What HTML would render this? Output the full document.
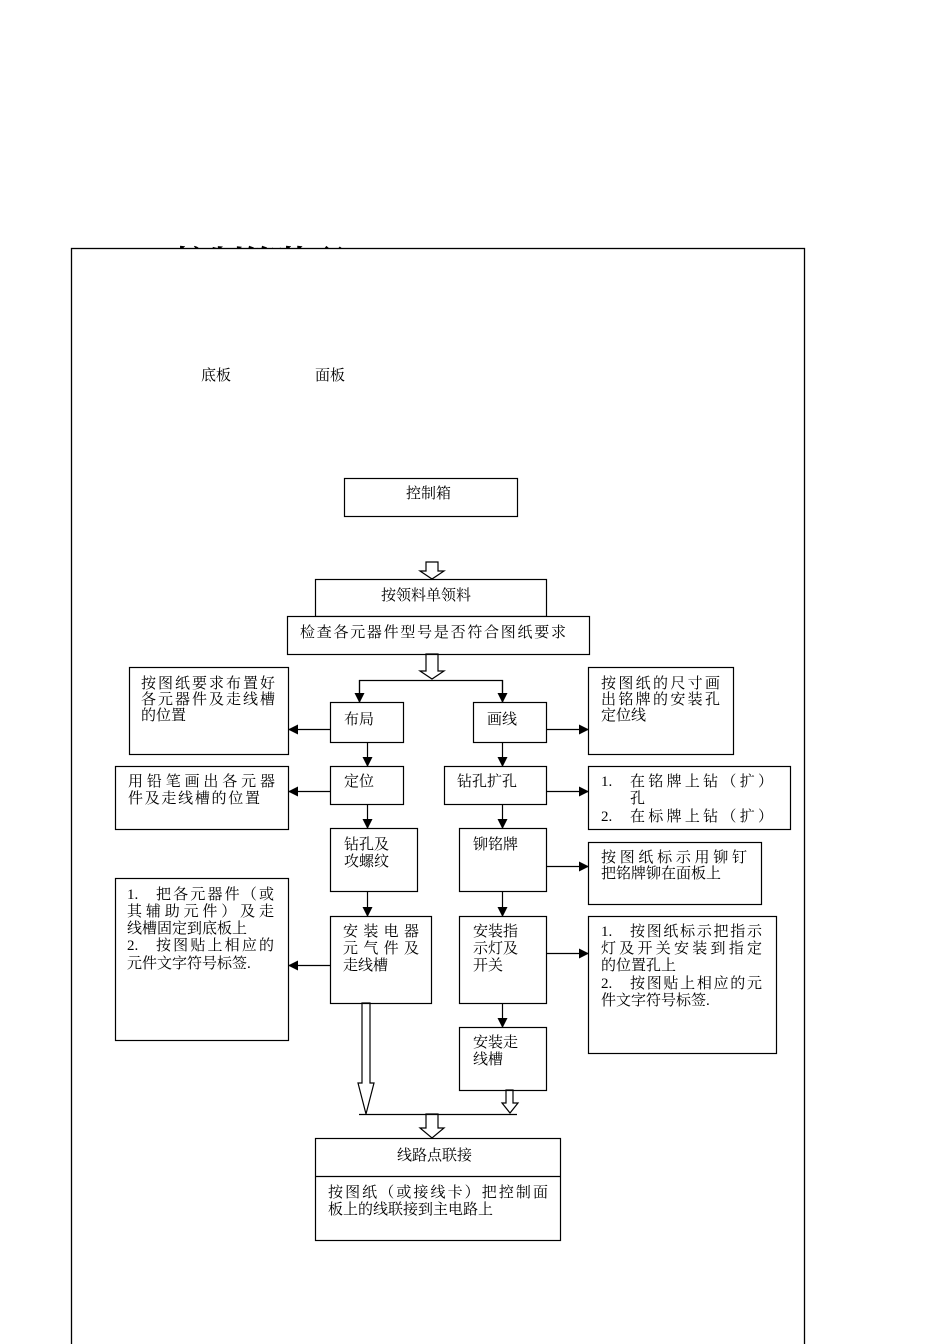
<!DOCTYPE html>
<html><head><meta charset="utf-8"><style>
html,body{margin:0;padding:0;background:#fff;}
svg{display:block;}
text{font-family:"Liberation Serif","Noto Serif CJK SC","Noto Sans CJK SC",serif;font-size:15px;fill:#000;}
</style></head><body>
<svg width="950" height="1344" viewBox="0 0 950 1344" xmlns="http://www.w3.org/2000/svg">
<defs>
<marker id="ah" markerWidth="10" markerHeight="10" refX="9" refY="5" orient="auto" markerUnits="userSpaceOnUse">
<path d="M0,0 L10,5 L0,10 z" fill="#000"/></marker>
</defs>
<text x="175" y="275" style="font-size:34px;font-weight:bold" textLength="170">控制箱装配</text>
<rect x="60" y="248" width="800" height="1100" fill="#fff"/>
<rect x="71.5" y="248.5" width="733" height="1100" fill="none" stroke="#000" stroke-width="1.3"/>
<g fill="none" stroke="#000" stroke-width="1.2">
<rect x="344.5" y="478.5" width="173" height="38"/>
<rect x="315.5" y="579.5" width="231" height="37"/>
<rect x="287.5" y="616.5" width="302" height="38" fill="#fff"/>
<rect x="330.5" y="702.5" width="73" height="40"/>
<rect x="473.5" y="702.5" width="73" height="40"/>
<rect x="129.5" y="667.5" width="159" height="87"/>
<rect x="588.5" y="667.5" width="145" height="87"/>
<rect x="330.5" y="766.5" width="73" height="38"/>
<rect x="444.5" y="766.5" width="102" height="38"/>
<rect x="115.5" y="766.5" width="173" height="63"/>
<rect x="588.5" y="766.5" width="202" height="63"/>
<rect x="330.5" y="828.5" width="87" height="63"/>
<rect x="459.5" y="828.5" width="87" height="63"/>
<rect x="588.5" y="842.5" width="173" height="62"/>
<rect x="115.5" y="878.5" width="173" height="162"/>
<rect x="330.5" y="916.5" width="101" height="87"/>
<rect x="459.5" y="916.5" width="87" height="87"/>
<rect x="588.5" y="916.5" width="188" height="137"/>
<rect x="459.5" y="1027.5" width="87" height="63"/>
<rect x="315.5" y="1138.5" width="245" height="102"/>
<line x1="315" y1="1176.5" x2="560" y2="1176.5"/>
<path d="M426,562 H438 V571 H444 L432,579 L420,571 H426 Z"/>
<path d="M426,654 H438 V671 H444 L432,679 L420,671 H426 Z"/>
<path d="M362,1003 H370 V1083 H374 L366,1114 L358,1083 H362 Z"/>
<path d="M506,1090 H513 V1103 H518 L510,1113 L502,1103 H506 Z"/>
<path d="M426,1114 H438 V1128 H444 L432,1138 L420,1128 H426 Z"/>
<line x1="359" y1="1114.5" x2="517" y2="1114.5"/>
<path d="M359.5,702 V680.5 H502.5 V702"/>
</g>
<g stroke="#000" stroke-width="1.2" marker-end="url(#ah)">
<line x1="359.5" y1="680" x2="359.5" y2="702"/>
<line x1="502.5" y1="680" x2="502.5" y2="702"/>
<line x1="330" y1="729.5" x2="289" y2="729.5"/>
<line x1="546" y1="729.5" x2="588" y2="729.5"/>
<line x1="367.5" y1="742" x2="367.5" y2="766"/>
<line x1="502.5" y1="742" x2="502.5" y2="766"/>
<line x1="330" y1="791.5" x2="289" y2="791.5"/>
<line x1="546" y1="791.5" x2="588" y2="791.5"/>
<line x1="367.5" y1="804" x2="367.5" y2="828"/>
<line x1="502.5" y1="804" x2="502.5" y2="828"/>
<line x1="546" y1="866.5" x2="588" y2="866.5"/>
<line x1="367.5" y1="891" x2="367.5" y2="916"/>
<line x1="502.5" y1="891" x2="502.5" y2="916"/>
<line x1="330" y1="965.5" x2="289" y2="965.5"/>
<line x1="546" y1="953.5" x2="588" y2="953.5"/>
<line x1="502.5" y1="1003" x2="502.5" y2="1027"/>
</g>
<text x="201" y="380">底板</text>
<text x="315" y="380">面板</text>
<text x="406" y="498">控制箱</text>
<text x="381" y="600">按领料单领料</text>
<text x="300" y="637" textLength="266">检查各元器件型号是否符合图纸要求</text>
<text x="141" y="688" textLength="134">按图纸要求布置好</text>
<text x="141" y="704" textLength="134">各元器件及走线槽</text>
<text x="141" y="720">的位置</text>
<text x="601" y="688" textLength="119">按图纸的尺寸画</text>
<text x="601" y="704" textLength="119">出铭牌的安装孔</text>
<text x="601" y="720">定位线</text>
<text x="344" y="724">布局</text>
<text x="487" y="724">画线</text>
<text x="128" y="786" textLength="147">用铅笔画出各元器</text>
<text x="128" y="803" textLength="132">件及走线槽的位置</text>
<text x="344" y="786">定位</text>
<text x="457" y="786">钻孔扩孔</text>
<text x="601" y="786">1.</text><text x="630" y="786" textLength="143">在铭牌上钻（扩）</text>
<text x="630" y="803">孔</text>
<text x="601" y="821">2.</text><text x="630" y="821" textLength="143">在标牌上钻（扩）</text>
<text x="344" y="849">钻孔及</text>
<text x="344" y="866">攻螺纹</text>
<text x="473" y="849">铆铭牌</text>
<text x="601" y="862" textLength="146">按图纸标示用铆钉</text>
<text x="601" y="878">把铭牌铆在面板上</text>
<text x="127" y="899">1.</text><text x="156" y="899" textLength="118">把各元器件（或</text>
<text x="127" y="916" textLength="147">其辅助元件）及走</text>
<text x="127" y="933">线槽固定到底板上</text>
<text x="127" y="950">2.</text><text x="156" y="950" textLength="118">按图贴上相应的</text>
<text x="127" y="968">元件文字符号标签.</text>
<text x="343" y="936" textLength="76">安装电器</text>
<text x="343" y="953" textLength="76">元气件及</text>
<text x="343" y="970">走线槽</text>
<text x="473" y="936">安装指</text>
<text x="473" y="953">示灯及</text>
<text x="473" y="970">开关</text>
<text x="601" y="936">1.</text><text x="630" y="936" textLength="132">按图纸标示把指示</text>
<text x="601" y="953" textLength="161">灯及开关安装到指定</text>
<text x="601" y="970">的位置孔上</text>
<text x="601" y="988">2.</text><text x="630" y="988" textLength="132">按图贴上相应的元</text>
<text x="601" y="1005">件文字符号标签.</text>
<text x="473" y="1047">安装走</text>
<text x="473" y="1064">线槽</text>
<text x="397" y="1160">线路点联接</text>
<text x="328" y="1197" textLength="220">按图纸（或接线卡）把控制面</text>
<text x="328" y="1214">板上的线联接到主电路上</text>
</svg>
</body></html>
